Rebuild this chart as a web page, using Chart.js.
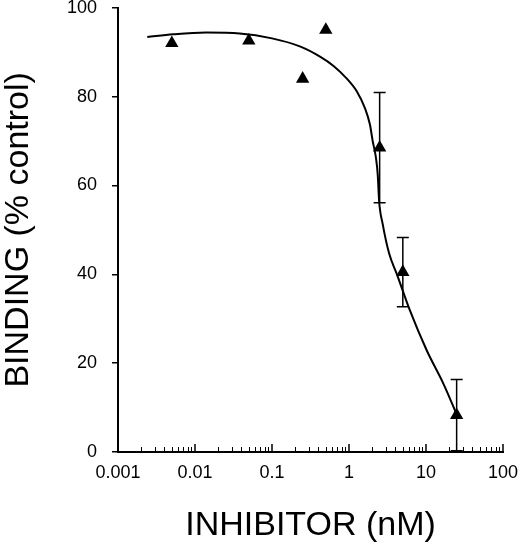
<!DOCTYPE html>
<html>
<head>
<meta charset="utf-8">
<script src="https://cdn.jsdelivr.net/npm/chart.js@4/dist/chart.umd.min.js"></script>
<style>
  html, body { margin: 0; padding: 0; background: #fff; }
  #wrap { width: 520px; height: 544px; }
</style>
</head>
<body>
<div id="wrap"><canvas id="chart" width="520" height="544"></canvas></div>
<script>
// measured points (inhibitor nM vs % binding)
var conc = [0.005, 0.05, 0.25, 0.5, 2.5, 5, 25];
var binding = [92, 92.6, 84, 95, 68.5, 40.5, 8.3];
var errs = [0, 0, 0, 0, 12.4, 7.8, 8];

// fitted curve
var fitX = [0.0024, 0.0052, 0.014, 0.038, 0.10, 0.23, 0.42, 0.63, 0.93, 1.26, 1.61, 1.87, 2.03, 2.24, 2.36, 2.46, 2.74, 3.33, 4.17, 6.2, 10.2, 16.8, 25];
var fitY = [93.4, 94.0, 94.4, 94.2, 93.1, 91.3, 89.0, 86.9, 84.1, 81.2, 77.4, 73.7, 70.0, 66.2, 62.5, 56.5, 51.3, 44.6, 40.1, 31.8, 22.9, 15.4, 8.5];

// axis ticks
var xDecades = [0.001, 0.01, 0.1, 1, 10, 100];
var xTickLabels = ['0.001', '0.01', '0.1', '1', '10', '100'];
var yTicks = [0, 20, 40, 60, 80, 100];

var FONT = "'Liberation Sans', Arial, sans-serif";

var points = conc.map(function (c, i) { return {x: c, y: binding[i]}; });
var curve = fitX.map(function (c, i) { return {x: c, y: fitY[i]}; });

// error bars, drawn under the markers
var errorBars = {
    id: 'errorBars',
    beforeDatasetsDraw: function (chart) {
        var ctx = chart.ctx, xs = chart.scales.x, ys = chart.scales.y;
        ctx.save();
        ctx.strokeStyle = '#000';
        ctx.lineWidth = 1.5;
        for (var i = 0; i < conc.length; i++) {
            if (!errs[i]) continue;
            var px = xs.getPixelForValue(conc[i]);
            var top = ys.getPixelForValue(binding[i] + errs[i]);
            var bot = ys.getPixelForValue(Math.max(binding[i] - errs[i], 0));
            ctx.beginPath();
            ctx.moveTo(px, top); ctx.lineTo(px, bot);
            ctx.moveTo(px - 6, top); ctx.lineTo(px + 6, top);
            ctx.moveTo(px - 6, bot); ctx.lineTo(px + 6, bot);
            ctx.stroke();
        }
        ctx.restore();
    }
};

// log ticks on the x axis, pointing up into the plot
var logTicks = {
    id: 'logTicks',
    afterDraw: function (chart) {
        var ctx = chart.ctx, xs = chart.scales.x;
        var y0 = chart.chartArea.bottom;
        ctx.save();
        ctx.strokeStyle = '#000';
        for (var d = 0; d < xDecades.length; d++) {
            ctx.lineWidth = 1.5;
            var px = xs.getPixelForValue(xDecades[d]);
            ctx.beginPath(); ctx.moveTo(px, y0); ctx.lineTo(px, y0 - 8); ctx.stroke();
            if (d == xDecades.length - 1) break;
            ctx.lineWidth = 1;
            for (var k = 2; k < 10; k++) {
                px = Math.round(xs.getPixelForValue(xDecades[d] * k)) + 0.5;
                ctx.beginPath(); ctx.moveTo(px, y0); ctx.lineTo(px, y0 - 5); ctx.stroke();
            }
        }
        ctx.restore();
    }
};

new Chart(document.getElementById('chart'), {
    type: 'scatter',
    data: {
        datasets: [{
            data: points,
            pointStyle: 'triangle',
            pointRadius: 7.7,
            pointHoverRadius: 7.7,
            backgroundColor: '#000',
            borderColor: '#000',
            borderWidth: 0
        }, {
            type: 'line',
            data: curve,
            borderColor: '#000',
            borderWidth: 2,
            pointRadius: 0,
            fill: false,
            cubicInterpolationMode: 'monotone'
        }]
    },
    options: {
        responsive: false,
        animation: false,
        devicePixelRatio: 1,
        layout: { padding: { top: 6, right: 17, bottom: 0, left: 0 } },
        plugins: { legend: { display: false }, tooltip: { enabled: false } },
        scales: {
            x: {
                type: 'logarithmic',
                min: 0.001,
                max: 100,
                afterBuildTicks: function (s) {
                    s.ticks = xDecades.map(function (v) { return {value: v}; });
                },
                afterFit: function (s) {
                    s.height = 92;
                    s.paddingLeft = 0;
                    s.paddingRight = 0;
                },
                grid: { display: false, drawTicks: false },
                border: { display: true, color: '#000', width: 2 },
                ticks: {
                    autoSkip: false,
                    maxRotation: 0,
                    padding: 10,
                    color: '#000',
                    font: { family: FONT, size: 18 },
                    callback: function (v, i) { return xTickLabels[i]; }
                },
                title: {
                    display: true,
                    text: 'INHIBITOR (nM)',
                    color: '#000',
                    font: { family: FONT, size: 34, lineHeight: 1.1 },
                    padding: 0
                }
            },
            y: {
                min: 0,
                max: 100,
                afterBuildTicks: function (s) {
                    s.ticks = yTicks.map(function (v) { return {value: v}; });
                },
                afterFit: function (s) {
                    s.width = 118;
                    s.paddingTop = 0;
                    s.paddingBottom = 0;
                },
                grid: { display: true, drawOnChartArea: false, drawTicks: true, tickLength: 6, color: '#000', lineWidth: 1.5 },
                border: { display: true, color: '#000', width: 2 },
                ticks: {
                    padding: 15,
                    color: '#000',
                    font: { family: FONT, size: 18 }
                },
                title: {
                    display: true,
                    text: 'BINDING (% control)',
                    color: '#000',
                    font: { family: FONT, size: 34, lineHeight: 1.1 },
                    padding: 0
                }
            }
        }
    },
    plugins: [errorBars, logTicks]
});
</script>
</body>
</html>
